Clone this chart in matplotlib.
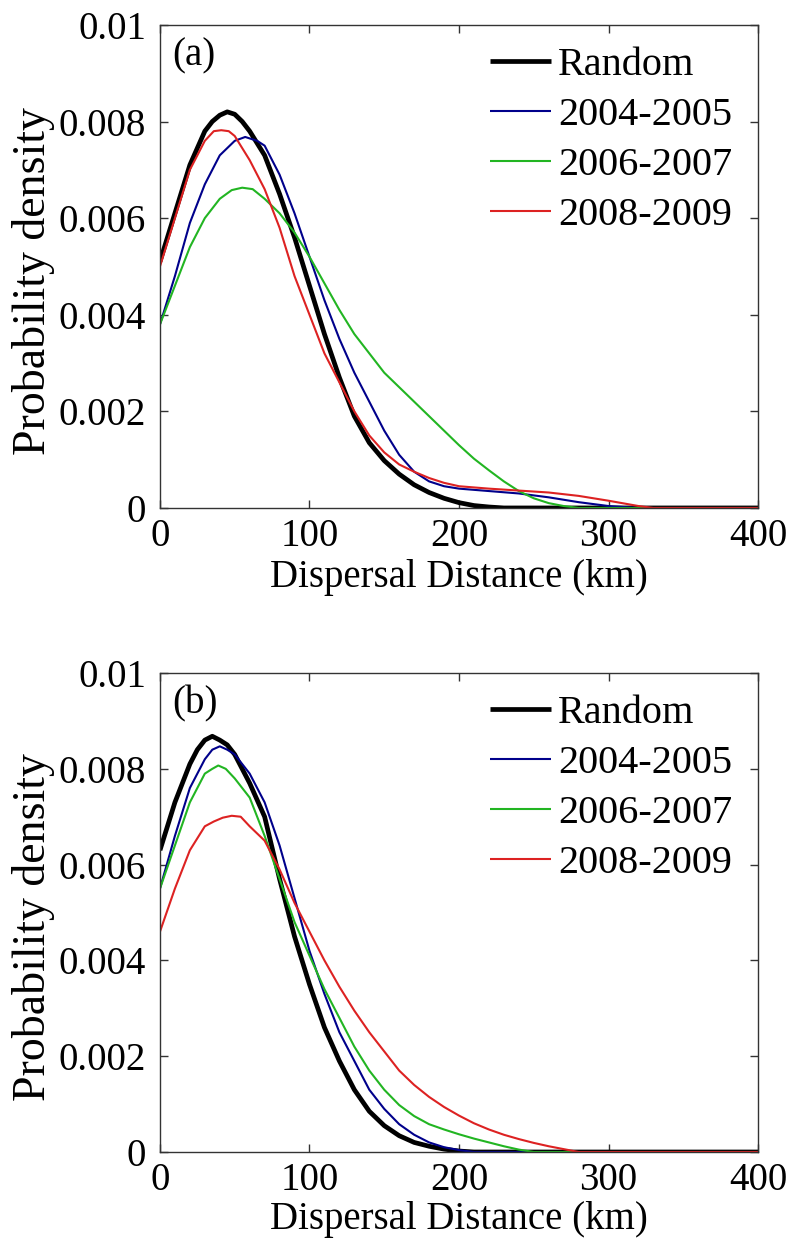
import matplotlib
matplotlib.use("Agg")
import matplotlib.pyplot as plt

plt.rcParams['font.family'] = ['Liberation Serif', 'DejaVu Serif']

# ---------------- data: panel (a) ----------------
a_random_x = [0, 10, 20, 30, 35, 40, 45, 50, 55, 60, 70, 80, 90, 100, 110, 120, 130, 140, 150, 160, 170, 180, 190, 200, 210, 220, 230, 400]
a_random_y = [0.0051, 0.0061, 0.0071, 0.0078, 0.0080, 0.00813, 0.0082, 0.00815, 0.0080, 0.0078, 0.0073, 0.0065, 0.0056, 0.0046, 0.0036, 0.0027, 0.0019, 0.00135, 0.00098, 0.0007, 0.00048, 0.00032, 0.0002, 0.00011, 0.00005, 0.00002, 0.0, 0.0]

a_0405_x = [0, 10, 20, 30, 40, 50, 57, 65, 70, 80, 90, 100, 110, 120, 130, 140, 150, 160, 170, 180, 190, 200, 220, 240, 260, 280, 300, 320, 400]
a_0405_y = [0.0038, 0.0048, 0.0059, 0.0067, 0.0073, 0.0076, 0.00768, 0.0076, 0.0075, 0.0069, 0.0061, 0.0052, 0.0043, 0.0035, 0.0028, 0.0022, 0.0016, 0.0011, 0.00075, 0.00055, 0.00045, 0.0004, 0.00035, 0.0003, 0.00022, 0.00012, 0.00004, 0.0, 0.0]

a_0607_x = [0, 10, 20, 30, 40, 48, 55, 62, 70, 80, 90, 100, 110, 120, 130, 140, 150, 160, 170, 180, 190, 200, 210, 220, 230, 240, 250, 260, 270, 280, 400]
a_0607_y = [0.0038, 0.0046, 0.0054, 0.0060, 0.0064, 0.00658, 0.00663, 0.0066, 0.0064, 0.0061, 0.0057, 0.0052, 0.00465, 0.0041, 0.0036, 0.0032, 0.0028, 0.0025, 0.0022, 0.0019, 0.0016, 0.0013, 0.00102, 0.00078, 0.00055, 0.00035, 0.0002, 0.0001, 0.00004, 0.0, 0.0]

a_0809_x = [0, 10, 20, 30, 36, 41, 46, 50, 60, 70, 80, 90, 100, 110, 120, 130, 140, 150, 160, 170, 180, 190, 200, 220, 240, 260, 280, 300, 320, 330, 400]
a_0809_y = [0.0050, 0.0060, 0.0070, 0.0076, 0.0078, 0.00782, 0.0078, 0.0077, 0.0072, 0.0066, 0.0058, 0.0048, 0.0040, 0.0032, 0.0026, 0.0020, 0.0015, 0.00115, 0.0009, 0.00075, 0.00062, 0.00052, 0.00045, 0.0004, 0.00036, 0.00032, 0.00025, 0.00015, 0.00004, 0.0, 0.0]

# ---------------- data: panel (b) ----------------
b_random_x = [0, 10, 20, 25, 30, 35, 40, 45, 50, 60, 70, 80, 90, 100, 110, 120, 130, 140, 150, 160, 170, 180, 190, 200, 210, 400]
b_random_y = [0.0063, 0.0073, 0.0081, 0.0084, 0.0086, 0.00868, 0.0086, 0.0085, 0.0083, 0.0077, 0.0070, 0.0057, 0.0045, 0.0035, 0.0026, 0.0019, 0.0013, 0.00085, 0.00055, 0.00034, 0.0002, 0.00012, 0.00006, 0.00002, 0.0, 0.0]

b_0405_x = [0, 10, 20, 30, 35, 40, 45, 50, 60, 70, 80, 90, 100, 110, 120, 130, 140, 150, 160, 170, 180, 190, 200, 210, 400]
b_0405_y = [0.0055, 0.0066, 0.0076, 0.0082, 0.0084, 0.00847, 0.0084, 0.0083, 0.0079, 0.0073, 0.0064, 0.0053, 0.0042, 0.0033, 0.0025, 0.0019, 0.0013, 0.0009, 0.00058, 0.00036, 0.0002, 0.0001, 0.00004, 0.0, 0.0]

b_0607_x = [0, 10, 20, 30, 35, 39, 44, 50, 60, 70, 80, 90, 100, 110, 120, 130, 140, 150, 160, 170, 180, 190, 200, 210, 220, 230, 240, 250, 400]
b_0607_y = [0.0055, 0.0064, 0.0073, 0.0079, 0.0080, 0.00807, 0.0080, 0.0078, 0.0074, 0.0066, 0.0057, 0.0048, 0.0041, 0.0034, 0.0028, 0.0022, 0.0017, 0.0013, 0.00098, 0.00075, 0.00058, 0.00047, 0.00037, 0.00028, 0.0002, 0.00012, 0.00005, 0.0, 0.0]

b_0809_x = [0, 10, 20, 30, 36, 42, 48, 54, 60, 70, 80, 90, 100, 110, 120, 130, 140, 150, 160, 170, 180, 190, 200, 210, 220, 230, 240, 250, 260, 270, 280, 400]
b_0809_y = [0.0046, 0.0055, 0.0063, 0.0068, 0.0069, 0.00698, 0.00702, 0.0070, 0.0068, 0.0065, 0.0059, 0.0052, 0.0046, 0.0040, 0.00345, 0.00295, 0.0025, 0.0021, 0.0017, 0.0014, 0.00115, 0.00094, 0.00076, 0.0006, 0.00047, 0.00036, 0.00027, 0.00019, 0.00012, 0.00006, 0.0, 0.0]

labels = ['Random', '2004-2005', '2006-2007', '2008-2009']
colors = ['#000000', '#00008B', '#22B522', '#DD2222']
widths = [3.4, 1.5, 1.5, 1.5]
panel_tags = ['(a)', '(b)']
x_ticks = [0, 100, 200, 300, 400]
y_ticks = [0, 0.002, 0.004, 0.006, 0.008, 0.01]
y_ticklabels = ['0', '0.002', '0.004', '0.006', '0.008', '0.01']
xlabel = 'Dispersal Distance (km)'
ylabel = 'Probability density'

panels = [
    [(a_random_x, a_random_y), (a_0405_x, a_0405_y), (a_0607_x, a_0607_y), (a_0809_x, a_0809_y)],
    [(b_random_x, b_random_y), (b_0405_x, b_0405_y), (b_0607_x, b_0607_y), (b_0809_x, b_0809_y)],
]

FS = 28
fig = plt.figure(figsize=(7.88, 12.45), dpi=100)
rects = [[0.203, 0.592, 0.759, 0.388], [0.203, 0.0747, 0.759, 0.3847]]
xlabel_y = [-0.105, -0.102]

for rect, series, tag, xly in zip(rects, panels, panel_tags, xlabel_y):
    ax = fig.add_axes(rect)
    for (xs, ys), lab, c, w in zip(series, labels, colors, widths):
        ax.plot(xs, ys, color=c, lw=w, label=lab, solid_joinstyle='round', solid_capstyle='butt')
    ax.set_xlim(0, 400)
    ax.set_ylim(0, 0.01)
    ax.set_xticks(x_ticks)
    ax.set_xticklabels([str(t) for t in x_ticks])
    ax.set_yticks(y_ticks)
    ax.set_yticklabels(y_ticklabels)
    ax.tick_params(direction='in', top=True, right=True, length=6, width=1,
                   labelsize=FS, color='#333333')
    ax.tick_params(axis='x', pad=7)
    ax.tick_params(axis='y', pad=10)
    for s in ax.spines.values():
        s.set_linewidth(1.0)
        s.set_color('#333333')
    ax.set_xlabel(xlabel, fontsize=FS, va='top')
    ax.xaxis.set_label_coords(0.5, xly)
    ax.set_ylabel(ylabel, fontsize=33)
    ax.yaxis.set_label_coords(-0.175, 0.47)
    ax.text(0.02, 0.975, tag, transform=ax.transAxes, fontsize=FS, va='top', ha='left')
    ax.legend(loc='upper left', frameon=False, fontsize=29, handlelength=1.5,
              handletextpad=0.18, labelspacing=0.32, borderaxespad=0.0, borderpad=0.0,
              bbox_to_anchor=(0.552, 0.955))

fig.savefig('out.png', dpi=100)
